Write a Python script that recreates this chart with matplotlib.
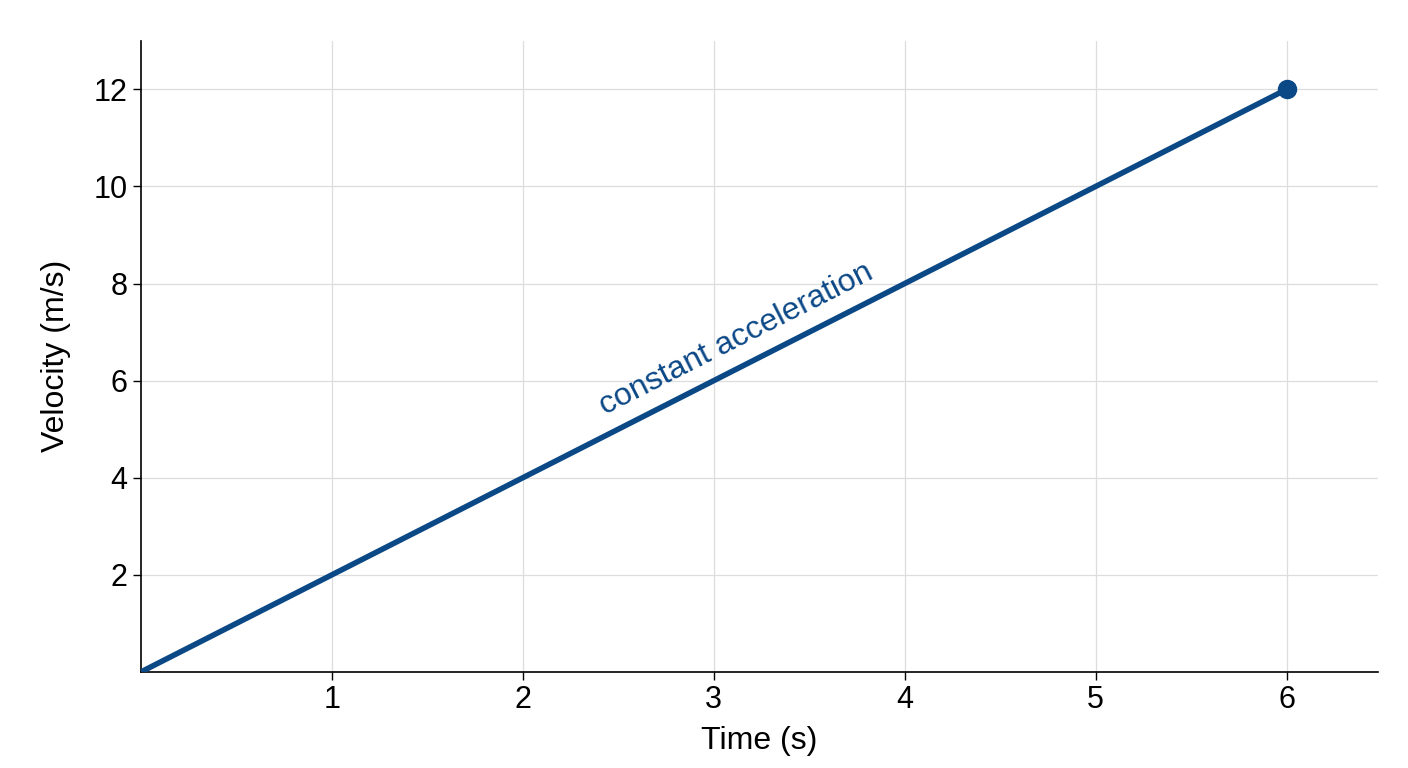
import matplotlib
matplotlib.use("Agg")
from matplotlib import pyplot as plt
import numpy as np

plt.rcParams['font.family'] = ['Liberation Sans', 'DejaVu Sans']

# velocity vs time, constant acceleration
time_s = [0, 6]
velocity = [0, 12]
xticks = [1, 2, 3, 4, 5, 6]
yticks = [2, 4, 6, 8, 10, 12]
label_text = "constant acceleration"

blue = "#0b4886"

fig = plt.figure(figsize=(14.08, 7.68), dpi=100)
ax = fig.add_axes([0.100, 0.125, 0.879, 0.822])

ax.plot(time_s, velocity, color=blue, lw=4, solid_capstyle="round", zorder=3)
ax.plot(time_s[-1], velocity[-1], "o", color=blue, ms=13, zorder=4)

ax.set_xlim(0, 6.48)
ax.set_ylim(0, 13)
ax.set_xticks(xticks)
ax.set_yticks(yticks)
ax.grid(True, color="#dddddd", lw=0.9)
ax.set_axisbelow(True)

for s in ["top", "right"]:
    ax.spines[s].set_visible(False)
for s in ["left", "bottom"]:
    ax.spines[s].set_linewidth(1.2)

ax.tick_params(labelsize=22, length=6, width=1, direction="out")
ax.set_xlabel("Time (s)", fontsize=23, labelpad=8)
ax.set_ylabel("Velocity (m/s)", fontsize=23, labelpad=16)

# rotate the label to follow the line on screen
p0 = ax.transData.transform((0, 0))
p1 = ax.transData.transform((6, 12))
angle = np.degrees(np.arctan2(p1[1] - p0[1], p1[0] - p0[0]))
ax.text(3.12, 6.85, label_text, color=blue, fontsize=23, rotation=angle,
        rotation_mode="anchor", ha="center", va="center")

fig.savefig("out.png", dpi=100)
